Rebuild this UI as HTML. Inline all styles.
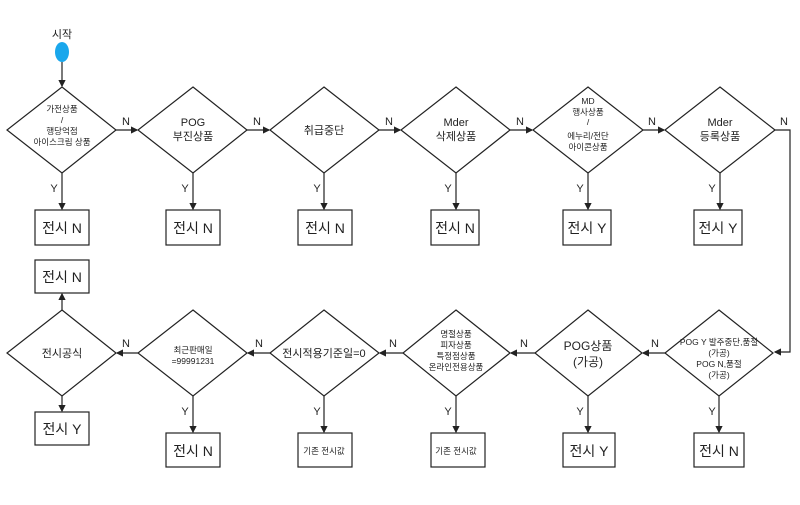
<!DOCTYPE html>
<html><head><meta charset="utf-8"><style>
body{margin:0;background:#fff;}
svg text{font-family:"Liberation Sans","Noto Sans CJK KR",sans-serif;fill:#222;text-anchor:middle;}
</style></head><body>
<svg width="800" height="500" viewBox="0 0 800 500" xmlns="http://www.w3.org/2000/svg">
<defs><marker id="a" markerWidth="6" markerHeight="6" refX="5" refY="3" orient="auto"><path d="M0,0 L6,3 L0,6z" fill="#222"/></marker></defs>
<g stroke="#222" stroke-width="1.2" fill="none">
<ellipse cx="62" cy="52" rx="7" ry="10" fill="#1aa7ec" stroke="none"/>
<line x1="62" y1="62" x2="62" y2="86" marker-end="url(#a)"/>
<!-- top diamonds -->
<polygon points="62,87 116,130 62,173 7,130"/>
<polygon points="193,87 247,130 193,173 138,130"/>
<polygon points="324,87 379,130 324,173 270,130"/>
<polygon points="456,87 510,130 456,173 401,130"/>
<polygon points="588,87 643,130 588,173 533,130"/>
<polygon points="720,87 775,130 720,173 665,130"/>
<line x1="116" y1="130" x2="137" y2="130" marker-end="url(#a)"/>
<line x1="247" y1="130" x2="269" y2="130" marker-end="url(#a)"/>
<line x1="379" y1="130" x2="400" y2="130" marker-end="url(#a)"/>
<line x1="510" y1="130" x2="532" y2="130" marker-end="url(#a)"/>
<line x1="643" y1="130" x2="664" y2="130" marker-end="url(#a)"/>
<polyline points="775,130 790,130 790,352 775,352" marker-end="url(#a)"/>
<line x1="62" y1="173" x2="62" y2="209" marker-end="url(#a)"/>
<line x1="193" y1="173" x2="193" y2="209" marker-end="url(#a)"/>
<line x1="324" y1="173" x2="324" y2="209" marker-end="url(#a)"/>
<line x1="456" y1="173" x2="456" y2="209" marker-end="url(#a)"/>
<line x1="588" y1="173" x2="588" y2="209" marker-end="url(#a)"/>
<line x1="720" y1="173" x2="720" y2="209" marker-end="url(#a)"/>
<rect x="35" y="210" width="54" height="35"/>
<rect x="166" y="210" width="54" height="35"/>
<rect x="298" y="210" width="54" height="35"/>
<rect x="431" y="210" width="48" height="35"/>
<rect x="563" y="210" width="48" height="35"/>
<rect x="694" y="210" width="48" height="35"/>
<!-- bottom diamonds -->
<polygon points="62,310 116,353 62,396 7,353"/>
<polygon points="193,310 247,353 193,396 138,353"/>
<polygon points="324,310 379,353 324,396 270,353"/>
<polygon points="456,310 510,353 456,396 403,353"/>
<polygon points="588,310 642,353 588,396 535,353"/>
<polygon points="719,310 773,353 719,396 665,353"/>
<line x1="665" y1="353" x2="643" y2="353" marker-end="url(#a)"/>
<line x1="535" y1="353" x2="511" y2="353" marker-end="url(#a)"/>
<line x1="403" y1="353" x2="380" y2="353" marker-end="url(#a)"/>
<line x1="270" y1="353" x2="248" y2="353" marker-end="url(#a)"/>
<line x1="138" y1="353" x2="117" y2="353" marker-end="url(#a)"/>
<line x1="62" y1="310" x2="62" y2="294" marker-end="url(#a)"/>
<line x1="62" y1="396" x2="62" y2="411" marker-end="url(#a)"/>
<line x1="193" y1="396" x2="193" y2="432" marker-end="url(#a)"/>
<line x1="324" y1="396" x2="324" y2="432" marker-end="url(#a)"/>
<line x1="456" y1="396" x2="456" y2="432" marker-end="url(#a)"/>
<line x1="588" y1="396" x2="588" y2="432" marker-end="url(#a)"/>
<line x1="719" y1="396" x2="719" y2="432" marker-end="url(#a)"/>
<rect x="35" y="260" width="54" height="33"/>
<rect x="35" y="412" width="54" height="33"/>
<rect x="166" y="433" width="54" height="34"/>
<rect x="298" y="433" width="54" height="34"/>
<rect x="431" y="433" width="54" height="34"/>
<rect x="563" y="433" width="52" height="34"/>
<rect x="694" y="433" width="50" height="34"/>
</g>
<g font-size="11">
<text x="62" y="38">시작</text>
<text x="126" y="125">N</text><text x="257" y="125">N</text><text x="389" y="125">N</text><text x="520" y="125">N</text><text x="652" y="125">N</text><text x="784" y="125">N</text>
<text x="54" y="192">Y</text><text x="185" y="192">Y</text><text x="317" y="192">Y</text><text x="448" y="192">Y</text><text x="580" y="192">Y</text><text x="712" y="192">Y</text>
<text x="655" y="347">N</text><text x="524" y="347">N</text><text x="393" y="347">N</text><text x="259" y="347">N</text><text x="126" y="347">N</text>
<text x="185" y="415">Y</text><text x="317" y="415">Y</text><text x="448" y="415">Y</text><text x="580" y="415">Y</text><text x="712" y="415">Y</text>
</g>
<g font-size="8.5" fill="#444">
<text x="62" y="112">가전상품</text><text x="62" y="123">/</text><text x="62" y="134">행당억점</text><text x="62" y="145">아이스크림 상품</text>
<text x="588" y="104">MD</text><text x="588" y="115">행사상품</text><text x="588" y="125">/</text><text x="588" y="139">에누리/전단</text><text x="588" y="150">아이콘상품</text>
<text x="193" y="353">최근판매일</text><text x="193" y="364">=99991231</text>
<text x="456" y="337">명절상품</text><text x="456" y="348">피자상품</text><text x="456" y="359">특정점상품</text><text x="456" y="370">온라인전용상품</text>
<text x="719" y="345">POG Y 발주중단,품절</text><text x="719" y="356">(가공)</text><text x="719" y="367">POG N,품절</text><text x="719" y="378">(가공)</text>
<text x="324" y="454">기존 전시값</text><text x="456" y="454">기존 전시값</text>
</g>
<g font-size="11">
<text x="193" y="126">POG</text><text x="193" y="140">부진상품</text>
<text x="324" y="134">취급중단</text>
<text x="456" y="126">Mder</text><text x="456" y="140">삭제상품</text>
<text x="720" y="126">Mder</text><text x="720" y="140">등록상품</text>
<text x="62" y="357">전시공식</text>
<text x="324" y="357">전시적용기준일=0</text>
<text x="588" y="350" font-size="12">POG상품</text><text x="588" y="366" font-size="12">(가공)</text>
</g>
<g font-size="14">
<text x="62" y="233">전시 N</text><text x="193" y="233">전시 N</text><text x="325" y="233">전시 N</text>
<text x="455" y="233">전시 N</text><text x="587" y="233">전시 Y</text><text x="718" y="233">전시 Y</text>
<text x="62" y="282">전시 N</text><text x="62" y="434">전시 Y</text>
<text x="193" y="456">전시 N</text><text x="589" y="456">전시 Y</text><text x="719" y="456">전시 N</text>
</g>
</svg>
</body></html>
